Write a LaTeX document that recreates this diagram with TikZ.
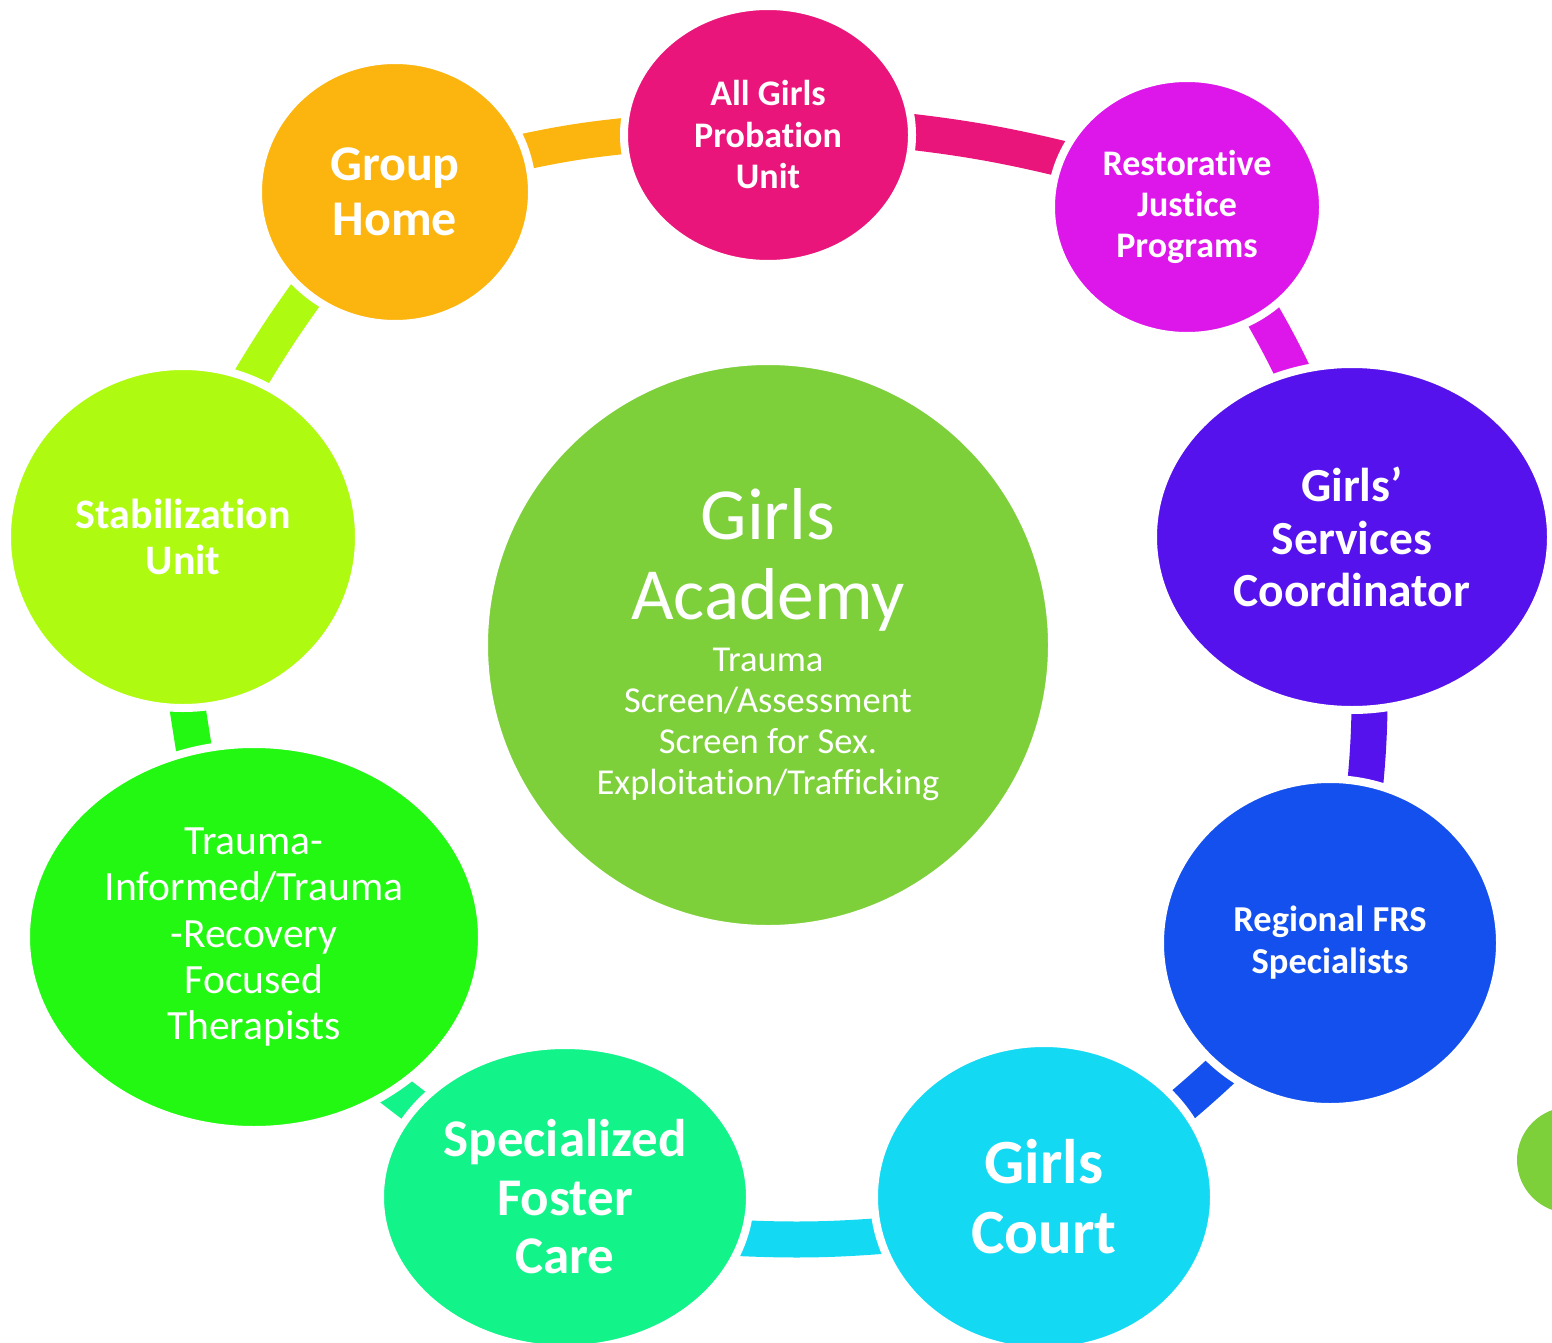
\documentclass[tikz,border=0pt]{standalone}
\usepackage{fontspec}
\setmainfont{Carlito}[Ligatures={NoCommon,NoContextual,NoRequired}]
\usetikzlibrary{shapes.geometric}
\definecolor{cAC}{HTML}{7ED03B}
\definecolor{cAG}{HTML}{EA157A}
\definecolor{cRJ}{HTML}{DD16EA}
\definecolor{cGS}{HTML}{5612EC}
\definecolor{cRF}{HTML}{1350EE}
\definecolor{cCT}{HTML}{13D9F3}
\definecolor{cFC}{HTML}{12F38A}
\definecolor{cTI}{HTML}{22F811}
\definecolor{cSU}{HTML}{AEFA10}
\definecolor{cGH}{HTML}{FCB40E}
\newcommand\acadbig{\fontsize{73.5}{80}\selectfont}
\newcommand\acadsmall{\fontsize{36.5}{41}\selectfont}
\begin{document}
\begin{tikzpicture}[x=1pt,y=-1pt,
  blob/.style={ellipse, draw=white, line width=8pt, inner sep=0pt, text=white, align=center},
  band/.style={line width=36pt, line cap=butt},
  bfnode/.style 2 args={font={\lineskiplimit=-1000pt\fontsize{#1}{#2}\selectfont\bfseries}},
  rgnode/.style 2 args={font={\lineskiplimit=-1000pt\fontsize{#1}{#2}\selectfont}}
]
\path[use as bounding box] (0,0) rectangle (1552,1343);
\clip (0,0) rectangle (1552,1343);
\fill[white] (0,0) rectangle (1552,1343);

% connector end points
\coordinate (s1a) at (501.3,156.9);  \coordinate (s1b) at (649.7,133.6);
\coordinate (s2a) at (885.4,128.9);  \coordinate (s2b) at (1084.6,164.4);
\coordinate (s3a) at (1250,293.4);   \coordinate (s3b) at (1303.7,395.1);
\coordinate (s4a) at (1369.8,685.7); \coordinate (s4b) at (1362.5,810);
\coordinate (s5a) at (1240.7,1052.4);\coordinate (s5b) at (1162.3,1122.1);
\coordinate (s6a) at (904,1234.1);   \coordinate (s6b) at (720,1237.1);
\coordinate (s7a) at (433.6,1120.7); \coordinate (s7b) at (376.4,1076.8);
\coordinate (s8a) at (197.6,772.2);  \coordinate (s8b) at (184.1,686.5);
\coordinate (s9a) at (238.8,398.7);  \coordinate (s9b) at (321.3,273.3);

\draw[band, cGH] (s1a) to[bend left=4] (s1b);
\draw[band, cAG] (s2a) to[bend left=4] (s2b);
\draw[band, cRJ] (s3a) to[bend left=3] (s3b);
\draw[band, cGS] (s4a) to[bend left=3] (s4b);
\draw[band, cRF] (s5a) to[bend left=2] (s5b);
\draw[band, cCT] (s6a) to[bend left=4] (s6b);
\draw[band, cFC] (s7a) -- (s7b);
\draw[band, cTI] (s8a) -- (s8b);
\draw[band, cSU] (s9a) to[bend left=3] (s9b);

% nodes
\node[blob, fill=cAC, minimum width=568pt, minimum height=568pt, rgnode={36.5}{41}] (ac) at (768,645)
  {\acadbig Girls\\[39pt]\acadbig Academy\\[11pt]\acadsmall Trauma\\Screen/Assessment\\Screen for Sex.\\Exploitation/Trafficking};
\node[blob, fill=cAG, minimum width=288pt, minimum height=258pt, bfnode={36}{41.5}] (ag) at (768,135)
  {All Girls\\Probation\\Unit};
\node[blob, fill=cRJ, minimum width=272pt, minimum height=258pt, bfnode={36}{41}] (rj) at (1187,207)
  {Restorative\\Justice\\Programs};
\node[blob, fill=cGS, minimum width=398pt, minimum height=346pt, bfnode={47.5}{52.5}] (gs) at (1352,537)
  {Girls’\\Services\\Coordinator};
\node[blob, fill=cRF, minimum width=340pt, minimum height=328pt, bfnode={36.5}{42}] (rf) at (1330,943)
  {Regional FRS\\Specialists};
\node[blob, fill=cCT, minimum width=340pt, minimum height=308pt, bfnode={63}{70}] (ct) at (1044,1197)
  {Girls\\Court};
\node[blob, fill=cFC, minimum width=370pt, minimum height=304pt, bfnode={53}{58.5}] (fc) at (565,1197)
  {Specialized\\Foster\\Care};
\node[blob, fill=cTI, minimum width=456pt, minimum height=386pt, rgnode={41.6}{46.3}] (ti) at (254,937)
  {Trauma-\\Informed/Trauma\\-Recovery\\Focused\\Therapists};
\node[blob, fill=cSU, minimum width=352pt, minimum height=342pt, bfnode={42}{46}] (su) at (183,537)
  {Stabilization\\Unit};
\node[blob, fill=cGH, minimum width=274pt, minimum height=264pt, bfnode={50}{54.5}] (gh) at (395,192)
  {Group\\Home};
\node[circle, fill=cAC, minimum size=106pt, inner sep=0pt] (dot) at (1570,1160) {};
\end{tikzpicture}
\end{document}
